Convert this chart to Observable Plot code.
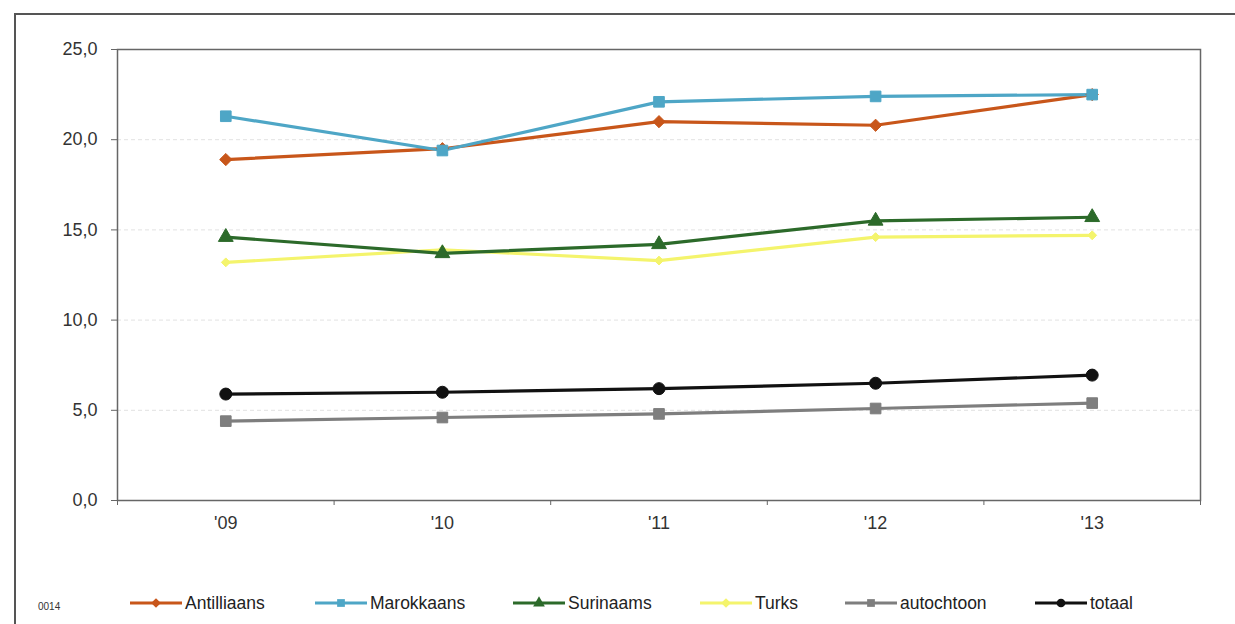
<!DOCTYPE html>
<html>
<head>
<meta charset="utf-8">
<script src="https://cdn.jsdelivr.net/npm/d3@7"></script>
<script src="https://cdn.jsdelivr.net/npm/@observablehq/plot@0.6"></script>
<style>
  html, body { margin: 0; padding: 0; background: #fff; }
  body { width: 1235px; height: 624px; position: relative; overflow: hidden;
         font-family: "Liberation Sans", Arial, sans-serif; }
  #border { position: absolute; left: 14px; top: 13px; width: 1240px; height: 640px;
            border-left: 2px solid #555; border-top: 2px solid #555; box-sizing: border-box; }
  #chart { position: absolute; left: 0; top: 0; }
  #legend { position: absolute; left: 0; top: 589px; width: 1235px; height: 30px; }
  #code { position: absolute; left: 38px; top: 601px; font-size: 10px; color: #333; }
  .item { position: absolute; top: 0; display: flex; align-items: center; font-size: 17.5px; color: #222; }
  .item svg { display: block; }
</style>
</head>
<body>
<div id="border"></div>
<div id="chart"></div>
<div id="code">0014</div>
<div id="legend"></div>
<script>
const years = [2009, 2010, 2011, 2012, 2013];
const yearLabels = ["'09", "'10", "'11", "'12", "'13"];
const seriesNames = ["Antilliaans", "Marokkaans", "Surinaams", "Turks", "autochtoon", "totaal"];
const antilliaans = [18.9, 19.5, 21.0, 20.8, 22.5];
const marokkaans  = [21.3, 19.4, 22.1, 22.4, 22.5];
const surinaams   = [14.6, 13.7, 14.2, 15.5, 15.7];
const turks       = [13.2, 13.9, 13.3, 14.6, 14.7];
const autochtoon  = [4.4, 4.6, 4.8, 5.1, 5.4];
const totaal      = [5.9, 6.0, 6.2, 6.5, 6.95];
const yTicks = [0, 5, 10, 15, 20, 25];

const seriesValues = [antilliaans, marokkaans, surinaams, turks, autochtoon, totaal];
const colors  = ["#c8561a", "#4ea6c6", "#2c6a2a", "#f4f46c", "#7e7e7e", "#111111"];
const symbols = ["diamond2", "square", "triangle", "plus", "square", "circle"];
const radii   = [5.5, 6, 5.5, 4, 6, 6];

const data = [];
seriesNames.forEach((name, i) => {
  seriesValues[i].forEach((v, j) => data.push({series: name, year: years[j], value: v, idx: i}));
});

const boundaries = [2008.5, 2009.5, 2010.5, 2011.5, 2012.5, 2013.5];
const fmt = d => d3.format(".1f")(d).replace(".", ",");

const marks = [
  Plot.ruleY([5, 10, 15, 20], {stroke: "#e2e2e2", strokeDasharray: "4,3", strokeWidth: 1}),
  Plot.frame({stroke: "#666", strokeWidth: 1.5}),
  Plot.axisY({ticks: yTicks, tickFormat: fmt, tickSize: 6, tickPadding: 14, fontSize: 18, color: "#333", label: null, stroke: "#666"}),
  Plot.axisX({ticks: boundaries, tickFormat: () => "", tickSize: 5, label: null, stroke: "#666"}),
  Plot.axisX({ticks: years, tickFormat: (d, i) => yearLabels[years.indexOf(d)], tickSize: 0, tickPadding: 16, fontSize: 18, color: "#333", label: null})
];
const order = [4, 5, 3, 2, 0, 1];
order.forEach(i => {
  const d = data.filter(r => r.idx === i);
  marks.push(Plot.line(d, {x: "year", y: "value", stroke: colors[i], strokeWidth: 3.2}));
});
order.forEach(i => {
  const d = data.filter(r => r.idx === i);
  const sym = symbols[i] === "plus" ? "diamond2" : symbols[i];
  marks.push(Plot.dot(d, {x: "year", y: "value", symbol: sym, r: radii[i], fill: colors[i], stroke: colors[i], strokeWidth: 1}));
});

const chart = Plot.plot({
  width: 1235,
  height: 545,
  marginLeft: 117,
  marginRight: 35,
  marginTop: 49,
  marginBottom: 45,
  style: {fontFamily: "'Liberation Sans', Arial, sans-serif", background: "transparent"},
  x: {type: "linear", domain: [2008.5, 2013.5]},
  y: {domain: [0, 25]},
  marks
});
document.getElementById("chart").appendChild(chart);

// Legend
const legendX = [130, 315, 513, 700, 845, 1035];
const legend = d3.select("#legend");
seriesNames.forEach((name, i) => {
  const item = legend.append("div").attr("class", "item").style("left", legendX[i] + "px");
  const svg = item.append("svg").attr("width", 54).attr("height", 28);
  svg.append("line").attr("x1", 0).attr("x2", 52).attr("y1", 14).attr("y2", 14)
     .attr("stroke", colors[i]).attr("stroke-width", 3.2);
  const sym = {diamond2: d3.symbolDiamond2, square: d3.symbolSquare, triangle: d3.symbolTriangle, plus: d3.symbolDiamond2, circle: d3.symbolCircle}[symbols[i]];
  svg.append("path").attr("d", d3.symbol(sym, 60)()).attr("transform", "translate(26,14)")
     .attr("fill", colors[i]);
  item.append("span").text(name).style("margin-left", "1px");
});
</script>
</body>
</html>
